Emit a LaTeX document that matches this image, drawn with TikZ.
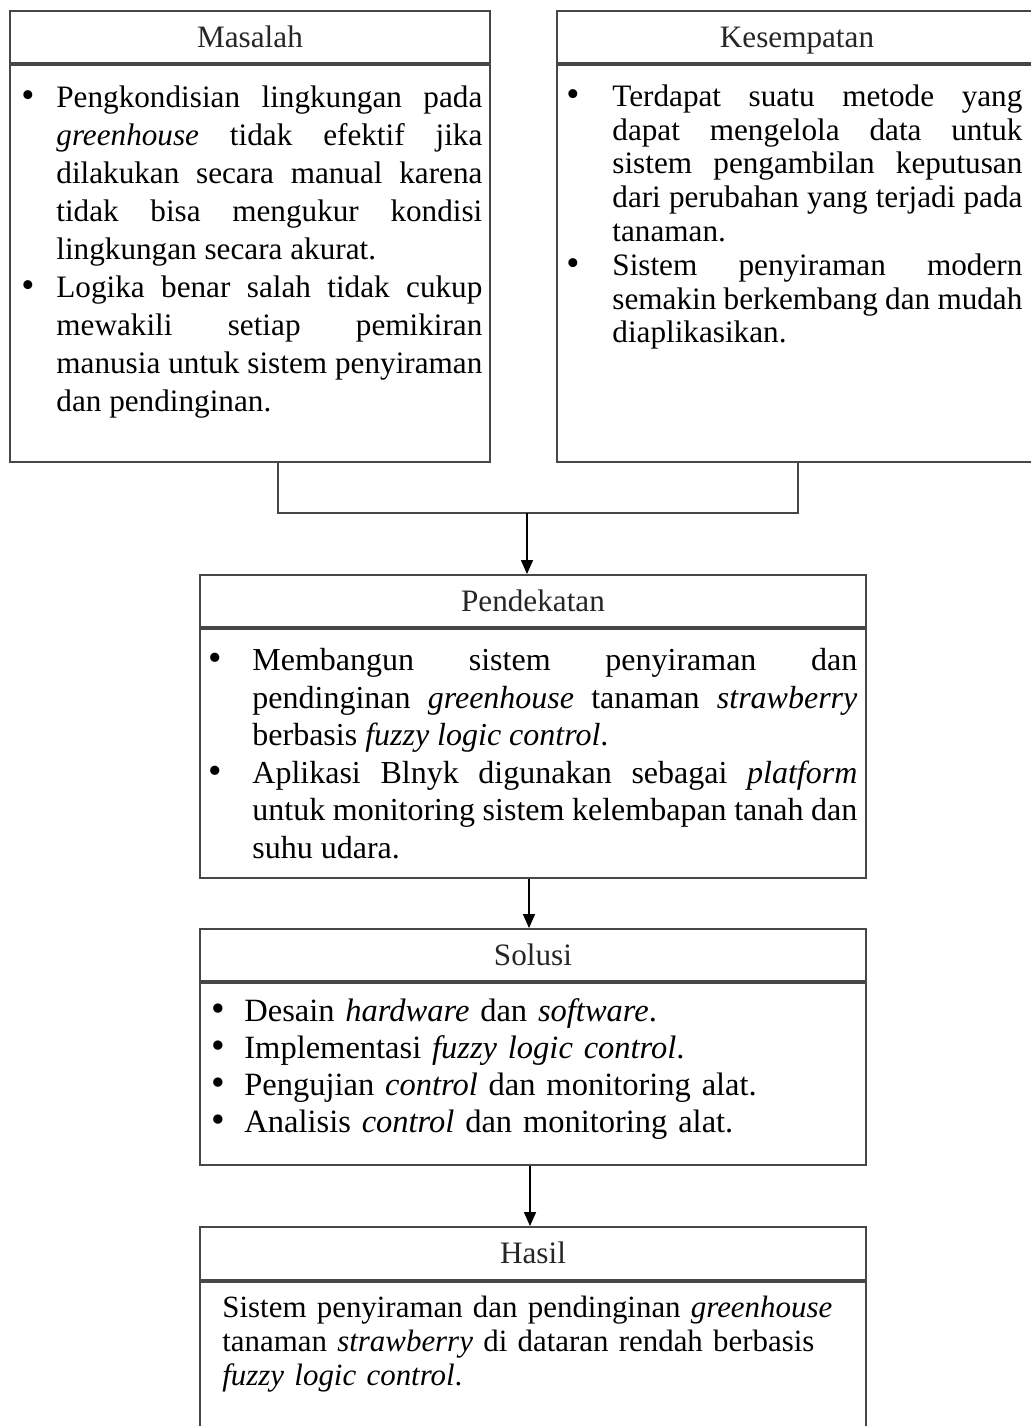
\documentclass[tikz,border=0pt]{standalone}
\usepackage{fontspec}
\setmainfont{Liberation Serif}
\usetikzlibrary{arrows.meta}

\hyphenpenalty=10000
\tolerance=9999
\newcommand{\itm}[1]{\noindent\strut\llap{\scalebox{1.2}{\textbullet}\hspace{#1}}}

\begin{document}
\begin{tikzpicture}[
  x=0.5pt, y=-0.5pt,
  >={Triangle[length=7pt, width=6pt]},
  frame/.style = {draw=black!72, line width=1pt, inner sep=0pt},
  head/.style  = {frame, text=black!85, font=\fontsize{15.6}{18}\selectfont,
                  text height=10.3pt, text depth=0pt},
  txt/.style   = {anchor=north west, inner sep=0pt, align=justify},
  link/.style  = {draw=black!72, line width=1pt},
  arr/.style   = {->, line width=0.8pt},
]
\clip (0,0) rectangle (1031,1426);

%── Boxes ─────────────────────────────────────────────────────────────────────
% top row
\node[head, minimum width=240pt, minimum height=26pt]   (mhead) at (250, 37)  {Masalah};
\node[frame, minimum width=240pt, minimum height=198.5pt, anchor=north] (mbody) at (mhead.south) {};
\node[head, minimum width=240pt, minimum height=26pt]   (khead) at (797, 37)  {Kesempatan};
\node[frame, minimum width=240pt, minimum height=198.5pt, anchor=north] (kbody) at (khead.south) {};

% middle column
\node[head, minimum width=333pt, minimum height=26pt]   (phead) at (533, 601) {Pendekatan};
\node[frame, minimum width=333pt, minimum height=124.5pt, anchor=north] (pbody) at (phead.south) {};
\node[head, minimum width=333pt, minimum height=26pt]   (shead) at (533, 955) {Solusi};
\node[frame, minimum width=333pt, minimum height=91pt, anchor=north]    (sbody) at (shead.south) {};
\node[head, minimum width=333pt, minimum height=26.5pt] (hhead) at (533, 1253.5) {Hasil};
\node[frame, minimum width=333pt, minimum height=80pt, anchor=north]    (hbody) at (hhead.south) {};

%── Box texts ─────────────────────────────────────────────────────────────────
\node[txt, text width=213pt, font=\fontsize{15.6}{19}\selectfont] (mtext) at (56, 80.4) {%
  \itm{11pt}Pengkondisian lingkungan pada\linebreak
  \emph{greenhouse} tidak efektif jika\linebreak
  dilakukan secara manual karena\linebreak
  tidak bisa mengukur kondisi\linebreak
  lingkungan secara akurat.\par
  \itm{11pt}Logika benar salah tidak cukup\linebreak
  mewakili setiap pemikiran\linebreak
  manusia untuk sistem penyiraman\linebreak
  dan pendinginan.};

\node[txt, text width=205pt, font=\fontsize{15.6}{16.9}\selectfont] (ktext) at (612, 82.3) {%
  \itm{16.5pt}Terdapat suatu metode yang\linebreak
  dapat mengelola data untuk\linebreak
  sistem pengambilan keputusan\linebreak
  dari perubahan yang terjadi pada\linebreak
  tanaman.\par
  \itm{16.5pt}Sistem penyiraman modern\linebreak
  semakin berkembang dan mudah\linebreak
  diaplikasikan.};

\node[txt, text width=302.5pt, font=\fontsize{16}{18.8}\selectfont] (ptext) at (252, 643.7) {%
  \itm{15pt}Membangun sistem penyiraman dan\linebreak
  pendinginan \emph{greenhouse} tanaman \emph{strawberry}\linebreak
  berbasis \emph{fuzzy logic control}.\par
  \itm{15pt}Aplikasi Blnyk digunakan sebagai \emph{platform}\linebreak
  untuk monitoring sistem kelembapan tanah dan\linebreak
  suhu udara.};

\node[txt, text width=300pt, align=left, font=\fontsize{16.25}{18.5}\selectfont] (stext) at (244, 995.1) {%
  \itm{9.5pt}Desain \emph{hardware} dan \emph{software}.\par
  \itm{9.5pt}Implementasi \emph{fuzzy logic control}.\par
  \itm{9.5pt}Pengujian \emph{control} dan monitoring alat.\par
  \itm{9.5pt}Analisis \emph{control} dan monitoring alat.};

\node[txt, text width=320pt, align=left, font=\fontsize{15.45}{17}\selectfont] (htext) at (222, 1293.2) {%
  \strut Sistem penyiraman dan pendinginan \emph{greenhouse}\\
  tanaman \emph{strawberry} di dataran rendah berbasis\\
  \emph{fuzzy logic control}.};

%── Connectors ────────────────────────────────────────────────────────────────
\coordinate (jl) at (278, 513);
\coordinate (jr) at (798, 513);
\coordinate (jm) at (527, 513);

\draw[link] (mbody.south -| jl) -- (jl) -- (jr) -- (kbody.south -| jr);
\draw[arr]  (jm) -- (jm |- phead.north);
\draw[arr]  ([xshift=-2pt]pbody.south)   -- ([xshift=-2pt]shead.north);
\draw[arr]  ([xshift=-1.5pt]sbody.south) -- ([xshift=-1.5pt]hhead.north);

\end{tikzpicture}
\end{document}
